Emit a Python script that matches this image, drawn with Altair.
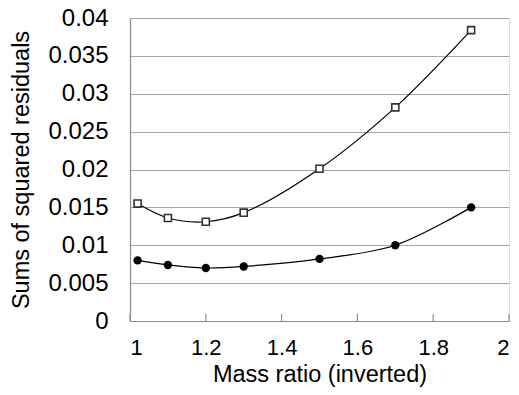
import altair as alt
import pandas as pd

mass_ratio = [1.02, 1.1, 1.2, 1.3, 1.5, 1.7, 1.9]
squares = [0.0155, 0.0136, 0.0131, 0.0143, 0.0201, 0.0282, 0.0384]
circles = [0.0080, 0.0074, 0.0070, 0.0072, 0.0082, 0.0100, 0.0150]
x_ticks = [1.0, 1.2, 1.4, 1.6, 1.8, 2.0]
y_ticks = [0, 0.005, 0.01, 0.015, 0.02, 0.025, 0.03, 0.035, 0.04]

df = pd.DataFrame({
    "x": mass_ratio * 2,
    "y": squares + circles,
    "series": ["squares"] * len(mass_ratio) + ["circles"] * len(mass_ratio),
})
ticks_df = pd.DataFrame({"x": x_ticks})

FONT = "Liberation Sans"

xscale = alt.Scale(domain=[1, 2], nice=False, zero=False)
yscale = alt.Scale(domain=[0, 0.04], nice=False)

x_axis = alt.Axis(values=x_ticks, format="~r", grid=False, ticks=False,
                  domainColor="#8c8c8c", domainWidth=1.2, labelOverlap=False,
                  labelFont=FONT, labelFontSize=22, labelColor="#000",
                  labelPadding=16, titleFont=FONT, titleFontSize=23.5,
                  titleFontWeight="normal", titleColor="#000", titlePadding=4)
y_axis = alt.Axis(values=y_ticks, format="~r", grid=True, gridColor="#a6a6a6",
                  gridWidth=1.2, ticks=False, domainColor="#8c8c8c", domainWidth=1.2,
                  labelOverlap=False,
                  labelFont=FONT, labelFontSize=24, labelColor="#000",
                  labelPadding=22, titleFont=FONT, titleFontSize=23.5,
                  titleFontWeight="normal", titleColor="#000", titlePadding=14)

x_enc = alt.X("x:Q", scale=xscale, title="Mass ratio (inverted)", axis=x_axis)
y_enc = alt.Y("y:Q", scale=yscale, title="Sums of squared residuals", axis=y_axis)

base = alt.Chart(df)

lines = base.mark_line(color="black", strokeWidth=1.2, interpolate="catmull-rom").encode(
    x=x_enc, y=y_enc, detail="series:N")

sq = base.transform_filter(alt.datum.series == "squares").mark_point(
    shape="square", size=50, filled=True, fill="white", stroke="#333", strokeWidth=1.6, opacity=1
).encode(x=x_enc, y=y_enc)

ci = base.transform_filter(alt.datum.series == "circles").mark_point(
    shape="circle", size=70, filled=True, color="black", opacity=1
).encode(x=x_enc, y=y_enc)

tick_marks = alt.Chart(ticks_df).mark_rule(color="#8c8c8c", strokeWidth=1.2).encode(
    x=x_enc, y=alt.value(296), y2=alt.value(303))

chart = alt.layer(lines, tick_marks, sq, ci).properties(
    width=379, height=303,
    autosize=alt.AutoSizeParams(type="none"),
    padding={"left": 130, "top": 18, "right": 10, "bottom": 74},
).configure_view(stroke=None).configure(background="white")

chart.save("out.html", embed_options={"renderer": "svg", "actions": False})
